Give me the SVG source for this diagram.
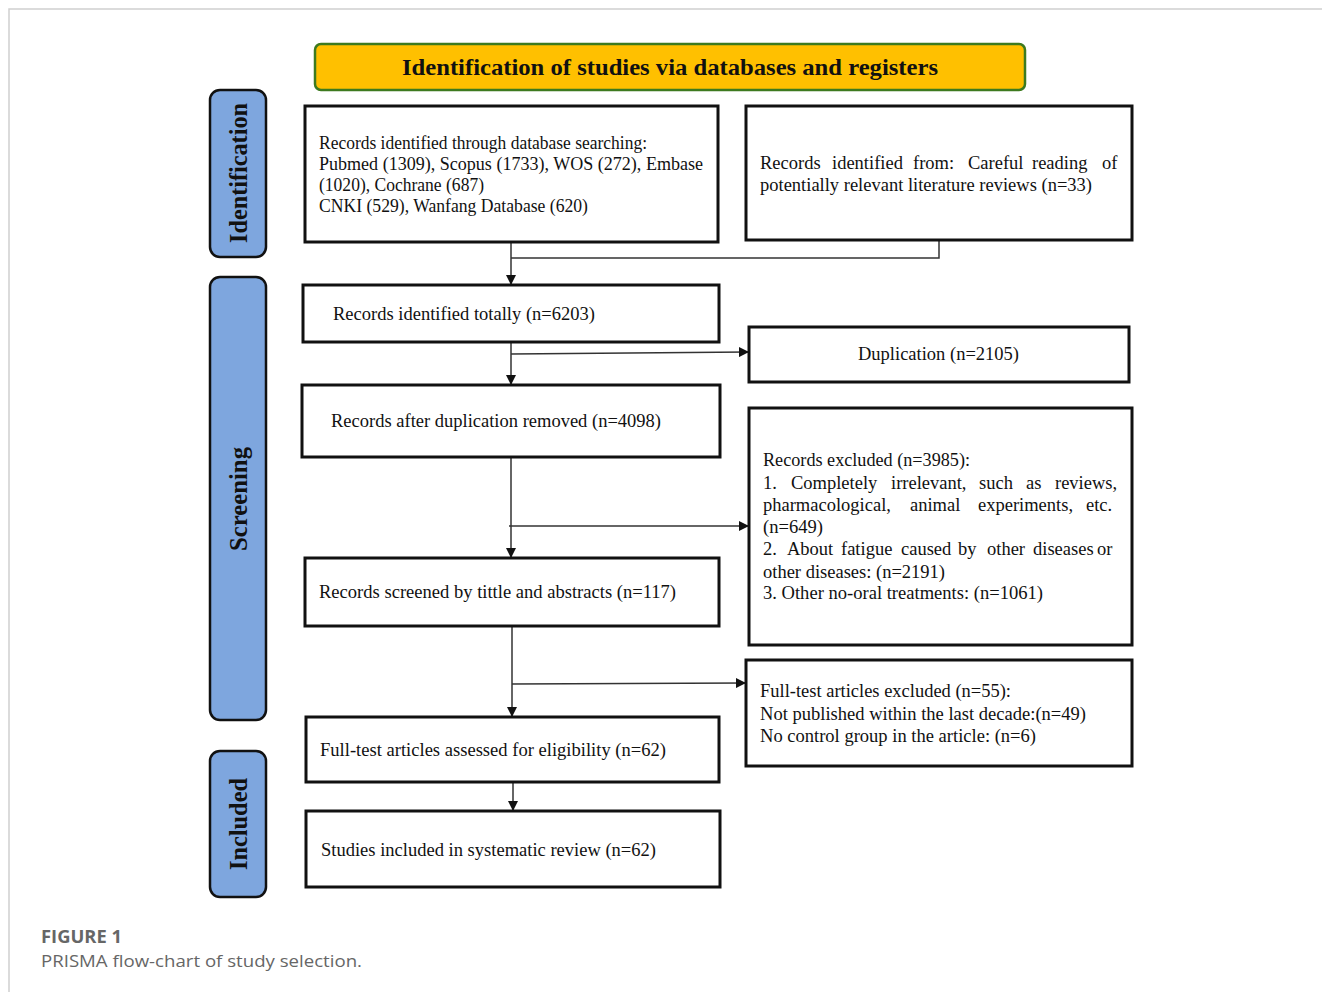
<svg xmlns="http://www.w3.org/2000/svg" width="1322" height="992" viewBox="0 0 1322 992">
<defs>
<style>
.bx{fill:#fff;stroke:#111;stroke-width:3}
.side{fill:#7ea6de;stroke:#111;stroke-width:2.5}
.t{font-family:"Liberation Serif","Times New Roman",serif;font-size:18.5px;fill:#111}
.sl{font-family:"Liberation Serif","Times New Roman",serif;font-size:25px;font-weight:bold;fill:#111}
.ln{fill:none;stroke:#333;stroke-width:1.5}
.cap{font-family:"Open Sans","Noto Sans",sans-serif;font-size:17px;fill:#666}
</style>
<marker id="ah" markerWidth="10" markerHeight="10" refX="9" refY="5" orient="auto" markerUnits="userSpaceOnUse">
<path d="M0,0 L10,5 L0,10 Z" fill="#111"/>
</marker>
</defs>
<rect width="1322" height="992" fill="#fff"/>
<path d="M9,992 V9 H1322" fill="none" stroke="#d0d0d0" stroke-width="1.5"/>

<g id="title">
<rect x="315" y="44" width="710" height="46" rx="6" fill="#ffc000" stroke="#3d7a1f" stroke-width="2.5"/>
<text x="670" y="75" text-anchor="middle" font-family="'Liberation Serif','Times New Roman',serif" font-size="24" font-weight="bold" fill="#111" textLength="536" lengthAdjust="spacingAndGlyphs">Identification of studies via databases and registers</text>
</g>

<g id="side-identification">
<rect class="side" x="210" y="90" width="56" height="167" rx="10"/>
<text class="sl" transform="translate(247,173) rotate(-90)" text-anchor="middle" textLength="140" lengthAdjust="spacingAndGlyphs">Identification</text>
</g>
<g id="side-screening">
<rect class="side" x="210" y="277" width="56" height="443" rx="10"/>
<text class="sl" transform="translate(247,499) rotate(-90)" text-anchor="middle" textLength="104" lengthAdjust="spacingAndGlyphs">Screening</text>
</g>
<g id="side-included">
<rect class="side" x="210" y="751" width="56" height="146" rx="10"/>
<text class="sl" transform="translate(247,824) rotate(-90)" text-anchor="middle" textLength="92" lengthAdjust="spacingAndGlyphs">Included</text>
</g>

<g id="connectors">
<path class="ln" d="M511,242 V284" marker-end="url(#ah)"/>
<path class="ln" d="M939,240 V258 H511"/>
<path class="ln" d="M511,342 V384" marker-end="url(#ah)"/>
<path class="ln" d="M511,354 L748,352" marker-end="url(#ah)"/>
<path class="ln" d="M511,457 V557" marker-end="url(#ah)"/>
<path class="ln" d="M509,526 H748" marker-end="url(#ah)"/>
<path class="ln" d="M512,626 V716" marker-end="url(#ah)"/>
<path class="ln" d="M512,684 L745,683" marker-end="url(#ah)"/>
<path class="ln" d="M513,782 V810" marker-end="url(#ah)"/>
</g>

<g id="db-search">
<rect class="bx" x="305" y="106" width="413" height="136"/>
<text class="t" x="319" y="149" textLength="328" lengthAdjust="spacingAndGlyphs">Records identified through database searching:</text>
<text class="t" x="319" y="170" textLength="384" lengthAdjust="spacingAndGlyphs">Pubmed (1309), Scopus (1733), WOS (272), Embase</text>
<text class="t" x="319" y="191" textLength="165" lengthAdjust="spacingAndGlyphs">(1020), Cochrane (687)</text>
<text class="t" x="319" y="212" textLength="269" lengthAdjust="spacingAndGlyphs">CNKI (529), Wanfang Database (620)</text>
</g>

<g id="other-sources">
<rect class="bx" x="746" y="106" width="386" height="134"/>
<text class="t" y="169"><tspan x="760">Records</tspan><tspan x="832">identified</tspan><tspan x="913">from:</tspan><tspan x="968">Careful</tspan><tspan x="1032">reading</tspan><tspan x="1102">of</tspan></text>
<text class="t" x="760" y="191" textLength="332" lengthAdjust="spacingAndGlyphs">potentially relevant literature reviews (n=33)</text>
</g>

<g id="total">
<rect class="bx" x="303" y="285" width="416" height="57"/>
<text class="t" x="333" y="320" textLength="262" lengthAdjust="spacingAndGlyphs">Records identified totally (n=6203)</text>
</g>

<g id="duplication">
<rect class="bx" x="749" y="327" width="380" height="55"/>
<text class="t" x="858" y="360" textLength="161" lengthAdjust="spacingAndGlyphs">Duplication (n=2105)</text>
</g>

<g id="after-dup">
<rect class="bx" x="302" y="385" width="418" height="72"/>
<text class="t" x="331" y="427" textLength="330" lengthAdjust="spacingAndGlyphs">Records after duplication removed (n=4098)</text>
</g>

<g id="excluded">
<rect class="bx" x="749" y="408" width="383" height="237"/>
<text class="t" x="763" y="466" textLength="207" lengthAdjust="spacingAndGlyphs">Records excluded (n=3985):</text>
<text class="t" y="489"><tspan x="763">1.</tspan><tspan x="791">Completely</tspan><tspan x="891">irrelevant,</tspan><tspan x="979">such</tspan><tspan x="1026">as</tspan><tspan x="1055">reviews,</tspan></text>
<text class="t" y="511"><tspan x="763">pharmacological,</tspan><tspan x="910">animal</tspan><tspan x="978">experiments,</tspan><tspan x="1086">etc.</tspan></text>
<text class="t" x="763" y="533" textLength="60" lengthAdjust="spacingAndGlyphs">(n=649)</text>
<text class="t" y="555"><tspan x="763">2.</tspan><tspan x="787">About</tspan><tspan x="841">fatigue</tspan><tspan x="901">caused</tspan><tspan x="958">by</tspan><tspan x="987">other</tspan><tspan x="1033">diseases</tspan><tspan x="1097">or</tspan></text>
<text class="t" x="763" y="578" textLength="182" lengthAdjust="spacingAndGlyphs">other diseases: (n=2191)</text>
<text class="t" x="763" y="599" textLength="280" lengthAdjust="spacingAndGlyphs">3. Other no-oral treatments: (n=1061)</text>
</g>

<g id="screened">
<rect class="bx" x="305" y="558" width="414" height="68"/>
<text class="t" x="319" y="598" textLength="357" lengthAdjust="spacingAndGlyphs">Records screened by tittle and abstracts (n=117)</text>
</g>

<g id="fulltext-excluded">
<rect class="bx" x="746" y="660" width="386" height="106"/>
<text class="t" x="760" y="697" textLength="251" lengthAdjust="spacingAndGlyphs">Full-test articles excluded (n=55):</text>
<text class="t" x="760" y="720" textLength="326" lengthAdjust="spacingAndGlyphs">Not published within the last decade:(n=49)</text>
<text class="t" x="760" y="742" textLength="276" lengthAdjust="spacingAndGlyphs">No control group in the article: (n=6)</text>
</g>

<g id="eligibility">
<rect class="bx" x="306" y="717" width="413" height="65"/>
<text class="t" x="320" y="756" textLength="346" lengthAdjust="spacingAndGlyphs">Full-test articles assessed for eligibility (n=62)</text>
</g>

<g id="included">
<rect class="bx" x="306" y="811" width="414" height="76"/>
<text class="t" x="321" y="856" textLength="335" lengthAdjust="spacingAndGlyphs">Studies included in systematic review (n=62)</text>
</g>

<g id="caption">
<text class="cap" x="41" y="943" font-weight="bold" fill="#555" textLength="81" lengthAdjust="spacingAndGlyphs">FIGURE 1</text>
<text class="cap" x="41" y="967" textLength="321" lengthAdjust="spacingAndGlyphs">PRISMA flow-chart of study selection.</text>
</g>
</svg>
